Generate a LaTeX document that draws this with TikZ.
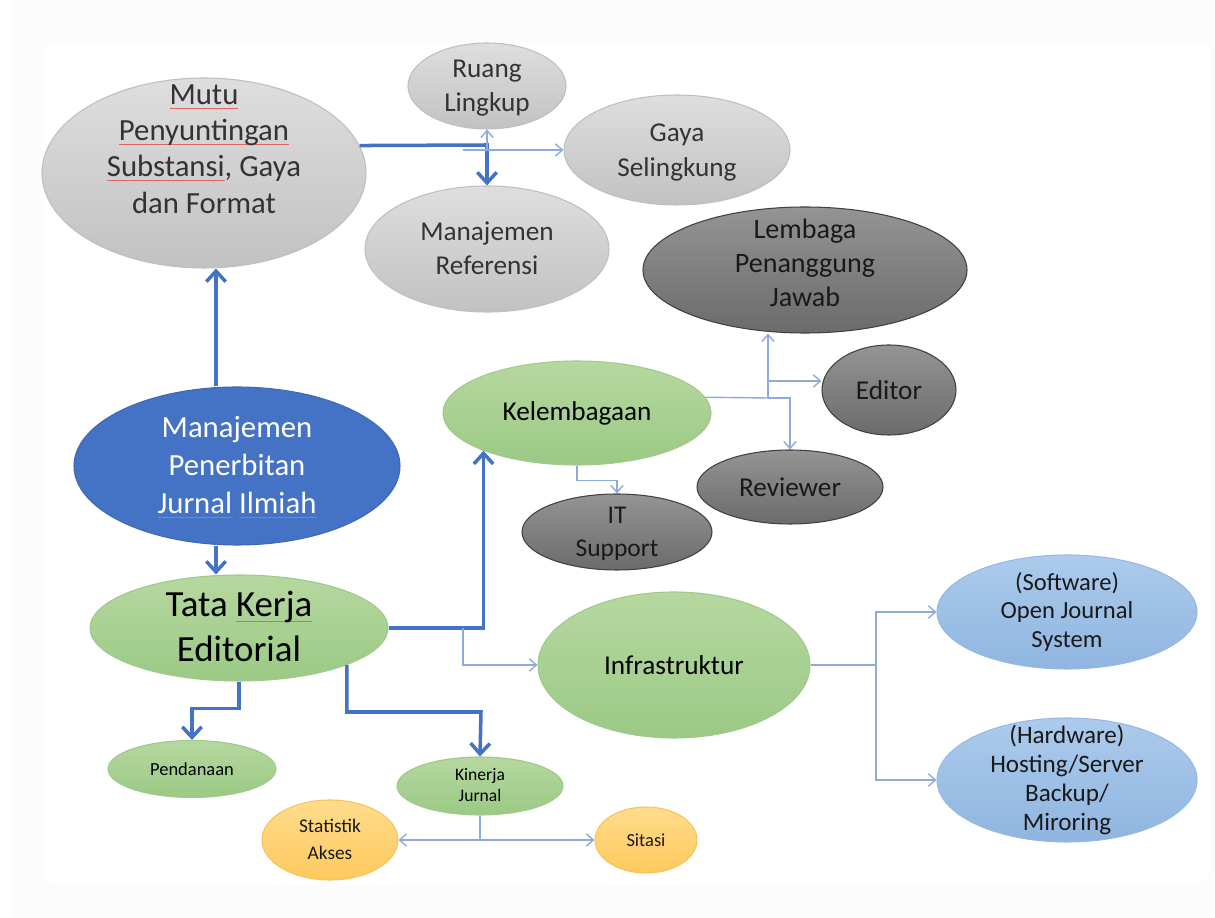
\documentclass[tikz,border=0pt]{standalone}
\usepackage{fontspec}
\setmainfont{Carlito}
\usetikzlibrary{shapes.geometric,arrows.meta,positioning}

\definecolor{mainblue}{HTML}{4472C4}
\definecolor{lineblue}{HTML}{8FAADC}
\definecolor{spellred}{HTML}{E06666}
\definecolor{offwhite}{HTML}{FCFCFC}

% text block with no height, so the ellipse keeps its own size
\newcommand{\etext}[2][0pt]{\raisebox{\dimexpr-.3em+#1\relax}[0pt][0pt]{\begin{tabular}{@{}c@{}}#2\end{tabular}}}
% spell-check underline
\newcommand{\spell}[1]{\setbox0\hbox{#1}\rlap{\textcolor{spellred}{\rule[-0.3ex]{\wd0}{0.6pt}}}\box0\relax}

\tikzset{
    bubble/.style={ellipse, inner sep=0pt, line width=0.6pt},
    ellsize/.style 2 args={minimum width=#1*0.02cm, minimum height=#2*0.02cm},
    graybub/.style={bubble, draw=black!25, top color=black!13, bottom color=black!24, text=black!80},
    darkbub/.style={bubble, draw=black!75, top color=black!42, bottom color=black!58, text=black!90},
    greenbub/.style={bubble, draw={rgb,255:red,160;green,201;blue,138}, top color={rgb,255:red,182;green,216;blue,160}, bottom color={rgb,255:red,155;green,201;blue,133}, text=black},
    bluebub/.style={bubble, draw={rgb,255:red,61;green,104;blue,181}, fill=mainblue, text=white},
    lbluebub/.style={bubble, draw={rgb,255:red,150;green,185;blue,226}, top color={rgb,255:red,172;green,203;blue,236}, bottom color={rgb,255:red,143;green,181;blue,224}, text=black!90},
    orangebub/.style={bubble, draw={rgb,255:red,247;green,195;blue,90}, top color={rgb,255:red,255;green,220;blue,140}, bottom color={rgb,255:red,254;green,201;blue,94}, text=black!90},
    mainarrow/.style={draw=mainblue, line width=2pt, -{Straight Barb[length=6pt, width=11pt, line width=2pt]}},
    subarrow/.style={draw=lineblue, line width=0.8pt, -{Straight Barb[length=4pt, width=7pt]}},
    subline/.style={draw=lineblue, line width=0.8pt}
}

\begin{document}
\begin{tikzpicture}[x=0.02cm, y=-0.02cm]
    % Page background
    \fill[white] (0,0) rectangle (1215,918);
    \fill[offwhite] (12,0) rectangle (1215,918);
    \fill[white, rounded corners=6pt] (43,43) rectangle (1210,883);
    \useasboundingbox (0,0) rectangle (1215,918);

    % Mutu branch
    \node[graybub, ellsize={324}{190}, font=\fontsize{17.5}{20.5}\selectfont] (mutu) at (204,173)
        {\etext[13pt]{\spell{Mutu}\\\spell{Penyuntingan}\\\spell{Substansi}, Gaya\\dan Format}};
    \node[graybub, ellsize={158}{86}, font=\fontsize{15.5}{19}\selectfont] (ruang) at (487,86) {\etext{Ruang\\Lingkup}};
    \node[graybub, ellsize={226}{110}, font=\fontsize{15.5}{20}\selectfont] (gaya) at (677,150) {\etext{Gaya\\Selingkung}};
    \node[graybub, ellsize={244}{126}, font=\fontsize{15.5}{19}\selectfont] (mref) at (487,249) {\etext{Manajemen\\Referensi}};

    % Kelembagaan branch
    \node[darkbub, ellsize={324}{126}, font=\fontsize{16}{19.5}\selectfont] (lembaga) at (805,270) {\etext[3pt]{Lembaga\\Penanggung\\Jawab}};
    \node[darkbub, ellsize={134}{90}, font=\fontsize{15.5}{19}\selectfont] (editor) at (889,390) {Editor};
    \node[darkbub, ellsize={186}{74}, font=\fontsize{15.5}{19}\selectfont] (reviewer) at (790,487) {Reviewer};
    \node[darkbub, ellsize={190}{76}, font=\fontsize{14.5}{18.8}\selectfont] (itsup) at (617,532) {\etext{IT\\Support}};
    \node[greenbub, ellsize={268}{104}, font=\fontsize{15.5}{19}\selectfont] (kelem) at (577,413) {Kelembagaan};

    % Core nodes
    \node[bluebub, ellsize={326}{158}, font=\fontsize{17.5}{21.6}\selectfont] (mjp) at (237,466)
        {\etext{Manajemen\\Penerbitan\\\spell{Jurnal} \spell{Ilmiah}}};
    \node[greenbub, ellsize={298}{106}, font=\fontsize{21}{25.6}\selectfont] (tata) at (239,628) {\etext{Tata \spell{Kerja}\\Editorial}};

    % Infrastruktur branch
    \node[greenbub, ellsize={272}{146}, font=\fontsize{15.5}{19}\selectfont] (infra) at (674,665) {Infrastruktur};
    \node[lbluebub, ellsize={260}{114}, font=\fontsize{14}{16.2}\selectfont] (soft) at (1067,612) {\etext{(Software)\\Open Journal\\System}};
    \node[lbluebub, ellsize={260}{124}, font=\fontsize{14.3}{16.5}\selectfont] (hard) at (1067,780) {\etext{(Hardware)\\Hosting/Server\\Backup/\\Miroring}};

    % Lower nodes
    \node[greenbub, ellsize={168}{57}, font=\fontsize{10.5}{13}\selectfont] (dana) at (192,769) {Pendanaan};
    \node[greenbub, ellsize={166}{58}, font=\fontsize{10}{12}\selectfont] (kinerja) at (480,786) {\etext{Kinerja\\Jurnal}};
    \node[orangebub, ellsize={136}{80}, font=\fontsize{11}{15.4}\selectfont] (stat) at (330,840) {\etext{Statistik\\Akses}};
    \node[orangebub, ellsize={102}{66}, font=\fontsize{10.5}{13}\selectfont] (sitasi) at (646,840) {Sitasi};

    % Junction points
    \coordinate (mainx) at (216,0);
    \coordinate (mutuhub) at (487,145);
    \coordinate (gayafork) at (463,150);
    \coordinate (ruangfork) at (487,150);
    \coordinate (infrafork) at (463,628);
    \coordinate (kinhub) at (481,712);
    \coordinate (kinfork) at (480,840);
    \coordinate (infrahub) at (876,665);
    \coordinate (kelemhub) at (768,398);
    \coordinate (editorfork) at (768,381);

    % Thick connectors
    \draw[mainarrow] (mjp.north -| mainx) -- (mutu.south -| mainx);
    \draw[mainarrow] (mjp.south -| mainx) -- (tata.north -| mainx);
    \draw[mainarrow] (mutu.10) -- (mutuhub) -- (mref.north);
    \draw[mainarrow] (tata.east) -| (kelem.202);
    \draw[mainarrow] (tata.south) -- ++(0,27) -| (dana.north);
    \draw[mainarrow] (tata.-19) |- (kinhub) -- (kinerja.north);

    % Thin connectors
    \draw[subarrow] (gayafork) -- (gaya.west);
    \draw[subarrow] (ruangfork) -- (ruang.south);
    \draw[subarrow] (infrafork) |- (infra.west);
    \draw[subline] (kinerja.south) -- (kinfork);
    \draw[subarrow] (kinfork) -- (stat.east);
    \draw[subarrow] (kinfork) -- (sitasi.west);
    \draw[subline] (infra.east) -- (infrahub);
    \draw[subarrow] (infrahub) |- (soft.west);
    \draw[subarrow] (infrahub) |- (hard.west);
    \draw[subline] (kelem.7) -- (kelemhub);
    \draw[subarrow] (kelemhub) -- (kelemhub |- lembaga.south);
    \draw[subarrow] (editorfork) -- (editor.west |- editorfork);
    \draw[subarrow] (kelemhub) -| (reviewer.north);
    \draw[subarrow] (kelem.south) -- ++(0,15) -| (itsup.north);
\end{tikzpicture}
\end{document}
